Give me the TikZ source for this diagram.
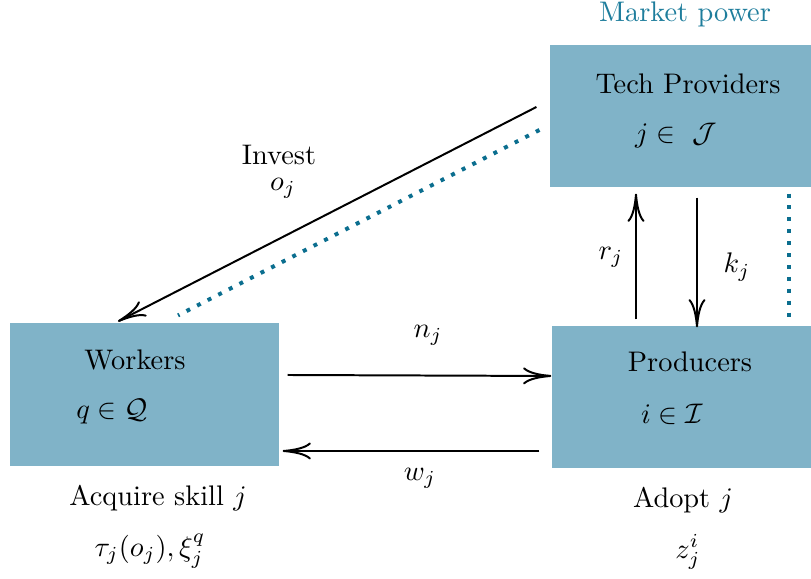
\documentclass[tikz,border=0pt]{standalone}
\usepackage{xcolor}
\usepackage{tikz}
\usetikzlibrary{arrows.meta,positioning,calc}
\definecolor{boxblue}{HTML}{80B3C8}
\definecolor{dotteal}{HTML}{0B6E8F}
\definecolor{powerteal}{HTML}{1E7D9C}

\begin{document}
\begin{tikzpicture}[x=0.0124cm, y=-0.0124cm, >={To[length=10pt,width=6pt]},
  every node/.style={inner sep=1pt},
  agent/.style={fill=boxblue, inner sep=0pt},
  flow/.style={->, line width=0.7pt},
  power/.style={dotteal, line width=1.4pt, dash pattern=on 1.4pt off 2.8pt}]
  \useasboundingbox (0,0) rectangle (811,579);
  \node[agent, minimum width=261*0.0124cm, minimum height=142*0.0124cm] (tech) at (680.5,116) {};
  \node[agent, minimum width=269*0.0124cm, minimum height=143*0.0124cm] (workers) at (144.5,394.5) {};
  \node[agent, minimum width=259*0.0124cm, minimum height=142*0.0124cm] (prod) at (681.5,397) {};

  \node[powerteal] (power) at (685,14) {Market power};
  \node (techname) at (688,84) {Tech Providers};
  \node (techset) at (676,136) {$j\in\ \mathcal{J}$};
  \node (workname) at (135,360) {Workers};
  \node (workset) at (112,412) {$q\in\mathcal{Q}$};
  \node (prodname) at (690,362) {Producers};
  \node (prodset) at (672,414) {$i\in\mathcal{I}$};
  \node (skill) at (158,498) {Acquire skill $j$};
  \node (cost) at (150,551) {$\tau_j(o_j), \xi_j^q$};
  \node (adopt) at (683,500) {Adopt $j$};
  \node (adoptvar) at (688,552) {$z_j^i$};

  \node (invest) at (279,155) {Invest};
  \node (olab) at (283,188) {$o_j$};
  \node (rlab) at (611,257) {$r_j$};
  \node (klab) at (737,267) {$k_j$};
  \node (nlab) at (428,335) {$n_j$};
  \node (wlab) at (420,478) {$w_j$};

  \draw[flow] ($(tech.west)+(-13,-9)$) -- ($(workers.north)+(-26.5,-1)$);
  \draw[power] ($(tech.west)+(-10,14)$) -- ($(workers.north)+(33.5,-7)$);
  \draw[power] ($(tech.south east)+(-23,6)$) -- ($(prod.north east)+(-23,-8)$);
  \draw[flow] ($(prod.north)+(-45.5,-6)$) -- ($(tech.south)+(-44.5,6)$);
  \draw[flow] ($(tech.south)+(16.5,10)$) -- ($(prod.north)+(15.5,2)$);
  \draw[flow] ($(workers.east)+(8,-19.5)$) -- ($(prod.west)+(0,-21)$);
  \draw[flow] ($(prod.west)+(-12,54)$) -- ($(workers.east)+(3,56.5)$);
\end{tikzpicture}
\end{document}
